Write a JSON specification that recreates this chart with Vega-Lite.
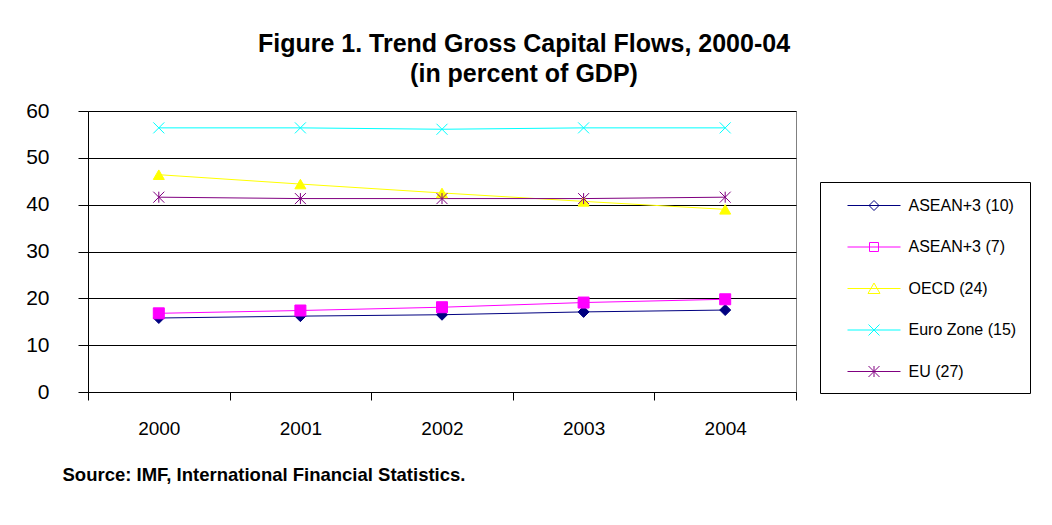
{
  "$schema": "https://vega.github.io/schema/vega-lite/v6.json",
  "width": 708,
  "height": 281,
  "autosize": {"type": "none"},
  "padding": {"left": 88, "top": 111, "right": 256, "bottom": 133},
  "background": "white",
  "config": {
    "font": "Liberation Sans",
    "view": {"stroke": "#808080", "strokeWidth": 1},
    "axis": {"labelFont": "Liberation Sans", "labelColor": "#000", "domainColor": "#000", "tickColor": "#000"}
  },
  "title": {
    "text": ["Figure 1. Trend Gross Capital Flows, 2000-04", "(in percent of GDP)"],
    "anchor": "middle",
    "frame": "group",
    "dx": 82,
    "offset": 13,
    "fontSize": 25,
    "fontWeight": "bold",
    "font": "Liberation Sans",
    "color": "#000",
    "lineHeight": 30
  },
  "data": {
    "values": [
      {"year": "2000", "series": "ASEAN+3 (10)", "value": 15.8},
      {"year": "2001", "series": "ASEAN+3 (10)", "value": 16.2},
      {"year": "2002", "series": "ASEAN+3 (10)", "value": 16.5},
      {"year": "2003", "series": "ASEAN+3 (10)", "value": 17.1},
      {"year": "2004", "series": "ASEAN+3 (10)", "value": 17.5},
      {"year": "2000", "series": "ASEAN+3 (7)", "value": 16.8},
      {"year": "2001", "series": "ASEAN+3 (7)", "value": 17.4},
      {"year": "2002", "series": "ASEAN+3 (7)", "value": 18.1},
      {"year": "2003", "series": "ASEAN+3 (7)", "value": 19.1},
      {"year": "2004", "series": "ASEAN+3 (7)", "value": 19.8},
      {"year": "2000", "series": "OECD (24)", "value": 46.4},
      {"year": "2001", "series": "OECD (24)", "value": 44.4},
      {"year": "2002", "series": "OECD (24)", "value": 42.5},
      {"year": "2003", "series": "OECD (24)", "value": 40.7},
      {"year": "2004", "series": "OECD (24)", "value": 39.0},
      {"year": "2000", "series": "Euro Zone (15)", "value": 56.4},
      {"year": "2001", "series": "Euro Zone (15)", "value": 56.4},
      {"year": "2002", "series": "Euro Zone (15)", "value": 56.1},
      {"year": "2003", "series": "Euro Zone (15)", "value": 56.4},
      {"year": "2004", "series": "Euro Zone (15)", "value": 56.4},
      {"year": "2000", "series": "EU (27)", "value": 41.6},
      {"year": "2001", "series": "EU (27)", "value": 41.3},
      {"year": "2002", "series": "EU (27)", "value": 41.3},
      {"year": "2003", "series": "EU (27)", "value": 41.3},
      {"year": "2004", "series": "EU (27)", "value": 41.6}
    ]
  },
  "encoding": {
    "x": {
      "field": "year",
      "type": "ordinal",
      "scale": {"paddingInner": 0, "paddingOuter": 0},
      "axis": {
        "labelAngle": 0,
        "labelFontSize": 19,
        "labelPadding": 19,
        "tickBand": "extent",
        "tickSize": 8,
        "grid": false,
        "title": "Source: IMF, International Financial Statistics.",
        "titleFontSize": 18.5,
        "titleFontWeight": "bold",
        "titleColor": "#000",
        "titleAnchor": "start",
        "titleAlign": "left",
        "titleBaseline": "alphabetic",
        "titleX": -26,
        "titleY": 88
      }
    },
    "y": {
      "field": "value",
      "type": "quantitative",
      "scale": {"domain": [0, 60], "nice": false},
      "axis": {
        "values": [0, 10, 20, 30, 40, 50, 60],
        "labelFontSize": 21,
        "tickSize": 10,
        "labelPadding": 29,
        "grid": true,
        "gridColor": "#000",
        "gridOpacity": 1,
        "title": null
      }
    },
    "color": {
      "field": "series",
      "type": "nominal",
      "scale": {
        "domain": ["ASEAN+3 (10)", "ASEAN+3 (7)", "OECD (24)", "Euro Zone (15)", "EU (27)"],
        "range": ["#000080", "#FF00FF", "#FFFF00", "#00FFFF", "#800080"]
      },
      "legend": {
        "title": null,
        "orient": "none",
        "legendX": 732,
        "legendY": 71,
        "padding": 13,
        "strokeColor": "#000",
        "fillColor": "#fff",
        "symbolSize": 400,
        "symbolOpacity": 1,
        "symbolOffset": 30.5,
        "labelOffset": 24,
        "labelFontSize": 16,
        "labelColor": "#000",
        "rowPadding": 22.5,
        "labelExpr": "datum.label + '\u00a0\u00a0\u00a0\u00a0\u00a0\u00a0\u00a0'",
        "labelLimit": 400,
        "symbolStrokeWidth": 1
      }
    },
    "stroke": {
      "field": "series",
      "type": "nominal",
      "scale": {
        "domain": ["ASEAN+3 (10)", "ASEAN+3 (7)", "OECD (24)", "Euro Zone (15)", "EU (27)"],
        "range": ["#000080", "#FF00FF", "#FFFF00", "#00FFFF", "#800080"]
      }
    }
  },
  "layer": [
    {
      "mark": {"type": "line", "strokeWidth": 1}
    },
    {
      "mark": {"type": "point", "filled": true, "opacity": 0, "strokeWidth": 1},
      "encoding": {
        "shape": {
          "field": "series",
          "type": "nominal",
          "scale": {
            "domain": ["ASEAN+3 (10)", "ASEAN+3 (7)", "OECD (24)", "Euro Zone (15)", "EU (27)"],
            "range": [
              "M-2.65,0H2.65M0,-0.5L0.5,0L0,0.5L-0.5,0Z",
              "M-2.65,0H2.65M-0.45,-0.45H0.45V0.45H-0.45Z",
              "M-2.65,0H2.65M0,-0.55L0.6,0.5L-0.6,0.5Z",
              "M-2.65,0H2.65M-0.55,-0.55L0.55,0.55M-0.55,0.55L0.55,-0.55",
              "M-2.65,0H2.65M-0.55,-0.55L0.55,0.55M-0.55,0.55L0.55,-0.55M0,-0.55V0.55"
            ]
          }
        }
      }
    },
    {
      "mark": {"type": "point", "filled": true, "opacity": 1, "strokeWidth": 1, "size": 121},
      "encoding": {
        "shape": {
          "condition": [
            {"test": "datum.series === 'ASEAN+3 (10)'", "value": "diamond"},
            {"test": "datum.series === 'ASEAN+3 (7)'", "value": "square"},
            {"test": "datum.series === 'OECD (24)'", "value": "triangle-up"},
            {"test": "datum.series === 'Euro Zone (15)'", "value": "M-1,-1L1,1M-1,1L1,-1"}
          ],
          "value": "M-1,-1L1,1M-1,1L1,-1M0,-1L0,1"
        }
      }
    }
  ]
}
